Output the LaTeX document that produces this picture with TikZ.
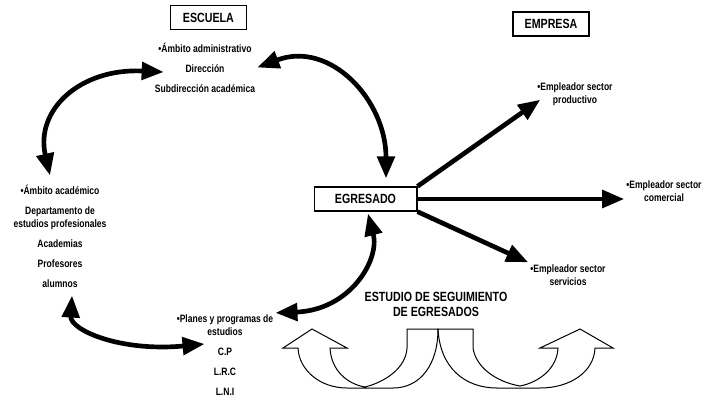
\documentclass[tikz,border=0pt]{standalone}
\usepackage{fontspec}
\setmainfont{Liberation Sans}[FakeStretch=0.8]
\usetikzlibrary{arrows.meta,calc}

\tikzset{
  hdr/.style={draw, line width=1pt, font=\fontsize{10}{11.25}\selectfont\bfseries, minimum height=18pt, inner sep=0pt, align=center},
  txt/.style={align=center, font=\fontsize{8}{9.75}\selectfont\bfseries, inner sep=1.5pt},
  big/.style={line width=3.5pt, -{Triangle[length=16.5pt,width=13pt]}},
  bigboth/.style={line width=3.5pt, {Triangle[length=16.5pt,width=13pt]}-{Triangle[length=16.5pt,width=13pt]}},
  hollow/.style={draw, line width=0.75pt, line join=miter}
}

\begin{document}
\begin{tikzpicture}[x=0.75pt,y=-0.75pt]
  \useasboundingbox (0,0) rectangle (712,400);

  % titulos
  \node[hdr, minimum width=57pt] (escuela) at (208.4,17.5) {ESCUELA};
  \node[hdr, minimum width=57pt] (empresa) at (551,24) {EMPRESA};
  \node[hdr, minimum width=77pt] (egr) at (365.5,199) {EGRESADO};

  % escuela
  \node[txt] (admin) at (205,67.5) {•Ámbito administrativo\\[5.25pt] Dirección\\[5.25pt] Subdirección académica};
  \node[txt] (acad) at (60,236.5) {•Ámbito académico\\[5.25pt] Departamento de\\ estudios profesionales\\[5.25pt] Academias\\[5.25pt] Profesores\\[5.25pt] alumnos};
  \node[txt] (plan) at (225,355.5) {•Planes y programas de\\ estudios\\[5.25pt] C.P\\[5.25pt] L.R.C\\[5.25pt] L.N.I};

  % empresa
  \node[txt] (prod) at (575,94) {•Empleador sector\\ productivo};
  \node[txt] (com) at (664,191) {•Empleador sector\\ comercial};
  \node[txt] (serv) at (568,275) {•Empleador sector\\ servicios};

  \node[hdr, draw=none] (seg) at (436,304.5) {ESTUDIO DE SEGUIMIENTO\\ DE EGRESADOS};

  % flechas egresado -> empresa
  \draw[big] (egr.north east) -- ($(prod.south west)+(5,-8)$);
  \draw[big] (egr.east) -- (egr.east -| com.west);
  \draw[big] (egr.south east) -- (serv.north west);

  % flechas dobles
  \draw[bigboth] (admin.east) .. controls (330,40) and (386,100) .. ($(egr.north)+(20.5,-8)$);
  \draw[bigboth] ($(admin.west)+(11,4.5)$) .. controls (80,68) and (35,110) .. ($(acad.north)+(-10,-7.5)$);
  \draw[bigboth] ($(acad.south)+(12,5.5)$) .. controls (70,330) and (120,352) .. ($(plan.west)+(30,-11.5)$);
  \draw[bigboth] ($(egr.south)+(2.5,2)$) .. controls (380,260) and (350,310) .. (plan.north east);

  % flechas huecas
  \draw[hollow] (312,329) -- (347,348) -- (330,348) .. controls (331,370) and (347,384) .. (365,387)
    .. controls (385,382) and (406,368) .. (407,348) -- (407,329) -- (438,329)
    .. controls (438,365) and (420,388) .. (393,388) -- (347,388)
    .. controls (320,388) and (299,370) .. (298,348) -- (283,348) -- cycle;
  \draw[hollow] (580,329) -- (613,348) -- (595,348) .. controls (594,372) and (570,388) .. (540,388)
    -- (497,388) .. controls (465,388) and (440,368) .. (438,329) -- (473,329) -- (473,348)
    .. controls (476,368) and (497,382) .. (520,386) .. controls (540,382) and (557,368) .. (558,348)
    -- (540,348) -- cycle;
\end{tikzpicture}
\end{document}
